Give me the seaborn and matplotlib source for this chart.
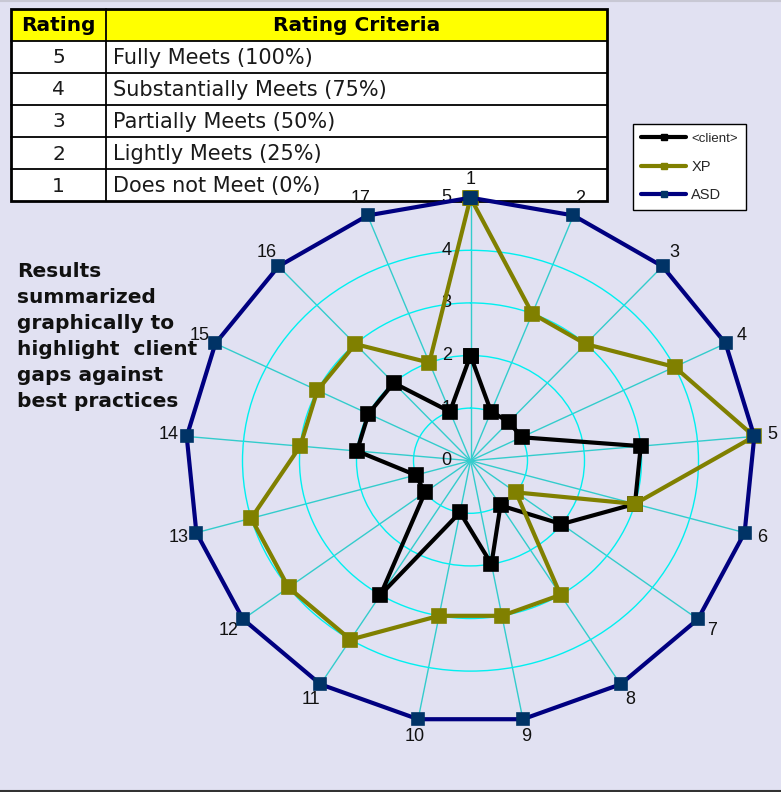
import numpy as np
import pandas as pd
import matplotlib
matplotlib.use("Agg")
import matplotlib.pyplot as plt
import seaborn as sns
from matplotlib.patches import Rectangle
from matplotlib.lines import Line2D

# ---------------- data ----------------
categories = [str(i) for i in range(1, 18)]
client = [2, 1, 1, 1, 3, 3, 2, 1, 2, 1, 3, 1, 1, 2, 2, 2, 1]
xp = [5, 3, 3, 4, 5, 3, 1, 3, 3, 3, 4, 4, 4, 3, 3, 3, 2]
asd = [5, 5, 5, 5, 5, 5, 5, 5, 5, 5, 5, 5, 5, 5, 5, 5, 5]
series_names = ["<client>", "XP", "ASD"]
radial_ticks = [0, 1, 2, 3, 4, 5]

table_header = ["Rating", "Rating Criteria"]
table_ratings = ["5", "4", "3", "2", "1"]
table_criteria = ["Fully Meets (100%)", "Substantially Meets (75%)",
                  "Partially Meets (50%)", "Lightly Meets (25%)",
                  "Does not Meet (0%)"]
note_lines = ["Results", "summarized", "graphically to",
              "highlight  client", "gaps against", "best practices"]

# ---------------- style ----------------
BG = "#E1E1F2"
sns.set_theme(style="white")
plt.rcParams["font.family"] = ["Liberation Sans", "DejaVu Sans"]
WIDE = ["DejaVu Sans"]

W, H = 781, 792
fig = plt.figure(figsize=(W / 100, H / 100), dpi=100, facecolor=BG)

# overlay axes in pixel coordinates for table / notes
ax0 = fig.add_axes([0, 0, 1, 1])
ax0.set_xlim(0, W)
ax0.set_ylim(H, 0)
ax0.axis("off")
ax0.set_zorder(0)

# table
tx0, tx1, tcol = 11, 607, 106
row_edges = [9, 40.5, 72.5, 104.5, 137, 169, 201]
ax0.add_patch(Rectangle((tx0, row_edges[0]), tx1 - tx0, row_edges[1] - row_edges[0],
                        facecolor="#FFFF00", edgecolor="none"))
ax0.add_patch(Rectangle((tx0, row_edges[1]), tx1 - tx0, row_edges[-1] - row_edges[1],
                        facecolor="white", edgecolor="none"))
for y in row_edges[1:-1]:
    ax0.plot([tx0, tx1], [y, y], color="black", lw=1.3)
ax0.plot([tcol, tcol], [row_edges[0], row_edges[-1]], color="black", lw=1.3)
ax0.add_patch(Rectangle((tx0, row_edges[0]), tx1 - tx0, row_edges[-1] - row_edges[0],
                        facecolor="none", edgecolor="black", lw=2))
hy = (row_edges[0] + row_edges[1]) / 2
ax0.text((tx0 + tcol) / 2, hy + 1, table_header[0], ha="center", va="center",
         fontsize=14.5, fontweight="bold", color="black", family=WIDE)
ax0.text((tcol + tx1) / 2, hy + 1, table_header[1], ha="center", va="center",
         fontsize=14.5, fontweight="bold", color="black", family=WIDE)
for k, (r, c) in enumerate(zip(table_ratings, table_criteria)):
    yc = (row_edges[k + 1] + row_edges[k + 2]) / 2 + 1
    ax0.text((tx0 + tcol) / 2, yc, r, ha="center", va="center", fontsize=14.5,
             color="#1a1a1a", family=WIDE)
    ax0.text(tcol + 7, yc, c, ha="left", va="center", fontsize=15,
             color="#1a1a1a", family=WIDE)

# notes
for k, line in enumerate(note_lines):
    ax0.text(17, 277 + 26 * k, line, ha="left", va="baseline", fontsize=14.5,
             fontweight="bold", color="#111111", family=WIDE)

# frame lines of the picture
ax0.plot([0, W], [790.5, 790.5], color="#333333", lw=1.5)
ax0.plot([0, W], [0.8, 0.8], color="#C8C8D4", lw=1.5)

# ---------------- radar ----------------
n = len(categories)
theta = np.linspace(0, 2 * np.pi, n, endpoint=False)
rows = []
for name, vals in zip(series_names, [client, xp, asd]):
    for i in range(n + 1):
        rows.append({"series": name,
                     "theta": theta[i] if i < n else 2 * np.pi,
                     "value": vals[i % n]})
df = pd.DataFrame(rows)

cx, cy, rx, ry = 470.5, 460.7, 285, 263
ax = fig.add_axes([(cx - rx) / W, (H - cy - ry) / H, 2 * rx / W, 2 * ry / H],
                  projection="polar")
ax.set_aspect("auto")
ax.set_zorder(1)
ax.set_facecolor("none")
ax.set_theta_zero_location("N")
ax.set_theta_direction(-1)

styles = {
    "<client>": dict(color="black", mfc="black", mec="black", ms=10.5, z=3),
    "XP": dict(color="#808000", mfc="#808000", mec="#808000", ms=10.5, z=4),
    "ASD": dict(color="#000080", mfc="#003366", mec="#003366", ms=9, z=5),
}
for name in series_names:
    st = styles[name]
    sns.lineplot(data=df[df["series"] == name], x="theta", y="value", ax=ax,
                 sort=False, estimator=None, legend=False, color=st["color"],
                 lw=3, marker="s", markersize=st["ms"],
                 markerfacecolor=st["mfc"], markeredgecolor=st["mec"],
                 markeredgewidth=1.2, zorder=st["z"], clip_on=False)

ax.set_ylim(0, 5)
ax.set_xlabel("")
ax.set_ylabel("")
ax.set_xticks(theta)
ax.set_xticklabels(categories, fontsize=13, color="#111111")
ax.tick_params(axis="x", pad=0)
ax.set_yticks([1, 2, 3, 4])
ax.set_yticklabels([])
ax.set_axisbelow(True)
ax.xaxis.grid(True, color="#33CCCC", lw=1)
ax.yaxis.grid(True, color="#00F0F0", lw=1)
ax.spines["polar"].set_visible(False)

for v in radial_ticks:
    ax.annotate(str(v), xy=(0, v), xytext=(-13.5, 0), textcoords="offset points",
                ha="right", va="center", fontsize=13, color="#111111", zorder=2)

# legend
handles = [
    Line2D([], [], color="black", lw=3, marker="s", ms=5, mfc="black", mec="black"),
    Line2D([], [], color="#808000", lw=3, marker="s", ms=5, mfc="#808000", mec="#808000"),
    Line2D([], [], color="#000080", lw=3, marker="s", ms=5, mfc="#003366", mec="#003366"),
]
leg = fig.legend(handles, series_names, loc="upper left",
                 bbox_to_anchor=(633 / W, 1 - 124 / H), borderaxespad=0,
                 frameon=True, fancybox=False, framealpha=1, facecolor="white",
                 edgecolor="black", fontsize=10.5, handlelength=3.1,
                 handletextpad=0.35, labelspacing=1.0, borderpad=0.55)
leg.get_frame().set_linewidth(1)
leg.set_zorder(10)
leg.get_texts()[0].set_fontsize(9.5)

fig.savefig("out.png", dpi=100, facecolor=BG)
